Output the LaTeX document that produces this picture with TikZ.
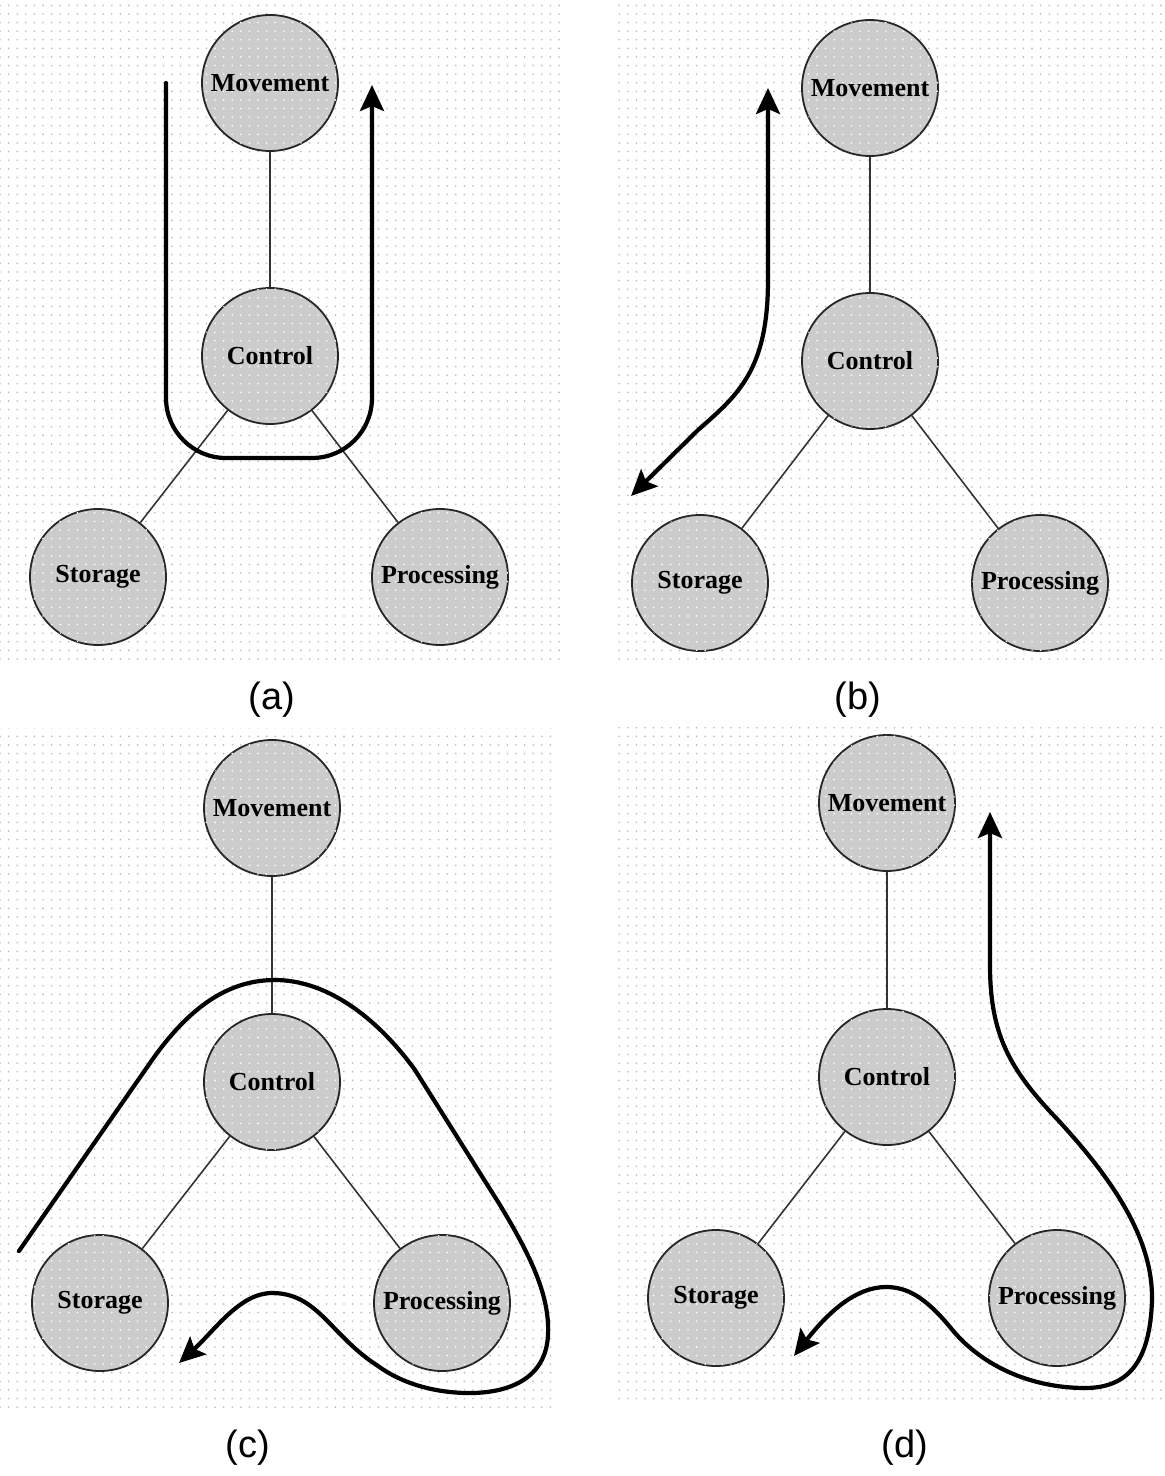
\documentclass[tikz,border=0pt]{standalone}
\usepackage{fontspec}
\setmainfont{Liberation Serif}
\newfontfamily\labfont{Liberation Sans}
\usetikzlibrary{patterns,arrows.meta}
\pgfdeclarepatternformonly{bgdots}{\pgfqpoint{-1pt}{-1pt}}{\pgfqpoint{1pt}{1pt}}{\pgfqpoint{4.3pt}{4.3pt}}{\pgfpathcircle{\pgfpointorigin}{0.45pt}\pgfusepath{fill}}
\begin{document}
\begin{tikzpicture}[x=0.5pt,y=-0.5pt,
  nd/.style={circle, draw=black!85, line width=0.9pt, fill=gray!40, minimum size=68pt, inner sep=0pt,
    font=\bfseries\fontsize{13}{15}\selectfont, postaction={pattern=bgdots, pattern color=white}},
  linkline/.style={draw=black!80, line width=0.8pt},
  flowline/.style={line width=2.1pt, line join=round, line cap=round},
  headend/.style={-{Stealth[length=13pt,width=12pt,inset=2.5pt]}},
  headboth/.style={{Stealth[length=13pt,width=12pt,inset=2.5pt]}-{Stealth[length=13pt,width=12pt,inset=2.5pt]}},
  caplabel/.style={font=\labfont\fontsize{19}{22}\selectfont}]
\useasboundingbox (0,0) rectangle (1164,1476);
\fill[white] (0,0) rectangle (1164,1476);
\fill[pattern=bgdots, pattern color=gray!55] (0,0) rectangle (560,665);
\fill[pattern=bgdots, pattern color=gray!55] (612,0) rectangle (1164,665);
\fill[pattern=bgdots, pattern color=gray!55] (0,728) rectangle (558,1410);
\fill[pattern=bgdots, pattern color=gray!55] (612,722) rectangle (1164,1402);

% ---------- (a)
\node[nd] (amv) at (270,83) {Movement};
\node[nd] (act) at (270,356) {Control};
\node[nd] (ast) at (98,577) {Storage};
\node[nd] (apr) at (440,577) {Processing};
\draw[linkline] (amv) -- (act);
\draw[linkline] (act) -- (ast);
\draw[linkline] (act) -- (apr);
\coordinate (as) at (166,83);
\coordinate (ae) at (372,85);
\draw[flowline, headend, rounded corners=30pt] (as) -- (166,458) -- (372,458) -- (ae);
\node[caplabel] (la) at (272,700) {(a)};

% ---------- (b)
\node[nd] (bmv) at (870,88) {Movement};
\node[nd] (bct) at (870,361) {Control};
\node[nd] (bst) at (700,583) {Storage};
\node[nd] (bpr) at (1040,583) {Processing};
\draw[linkline] (bmv) -- (bct);
\draw[linkline] (bct) -- (bst);
\draw[linkline] (bct) -- (bpr);
\coordinate (bs) at (768,88);
\coordinate (be) at (631,496);
\draw[flowline, headboth] (bs) -- (768,280) .. controls (768,370) and (738,395) .. (698,430) -- (be);
\node[caplabel] (lb) at (858,700) {(b)};

% ---------- (c)
\node[nd] (cmv) at (272,808) {Movement};
\node[nd] (cct) at (272,1082) {Control};
\node[nd] (cst) at (100,1303) {Storage};
\node[nd] (cpr) at (442,1303) {Processing};
\draw[linkline] (cmv) -- (cct);
\draw[linkline] (cct) -- (cst);
\draw[linkline] (cct) -- (cpr);
\coordinate (cs) at (19,1251);
\coordinate (ce) at (179,1363);
\draw[flowline, headend] (cs) -- (150,1063)
  .. controls (190,1005) and (230,980) .. (275,980)
  .. controls (325,980) and (375,1015) .. (415,1070)
  -- (500,1205)
  .. controls (530,1255) and (550,1295) .. (548,1335)
  .. controls (546,1378) and (510,1394) .. (465,1393)
  .. controls (430,1392) and (400,1382) .. (378,1366)
  .. controls (330,1335) and (318,1293) .. (272,1293)
  .. controls (240,1293) and (215,1330) .. (ce);
\node[caplabel] (lc) at (248,1448) {(c)};

% ---------- (d)
\node[nd] (dmv) at (887,803) {Movement};
\node[nd] (dct) at (887,1077) {Control};
\node[nd] (dst) at (716,1298) {Storage};
\node[nd] (dpr) at (1057,1298) {Processing};
\draw[linkline] (dmv) -- (dct);
\draw[linkline] (dct) -- (dst);
\draw[linkline] (dct) -- (dpr);
\coordinate (ds) at (990,812);
\coordinate (de) at (794,1356);
\draw[flowline, headboth] (ds) -- (990,965)
  .. controls (990,1035) and (1010,1070) .. (1058,1120)
  .. controls (1115,1182) and (1153,1240) .. (1152,1300)
  .. controls (1150,1362) and (1128,1388) .. (1085,1388)
  .. controls (1030,1388) and (980,1365) .. (950,1327)
  .. controls (925,1297) and (907,1287) .. (886,1287)
  .. controls (857,1287) and (830,1310) .. (de);
\node[caplabel] (ld) at (905,1448) {(d)};
\end{tikzpicture}
\end{document}
